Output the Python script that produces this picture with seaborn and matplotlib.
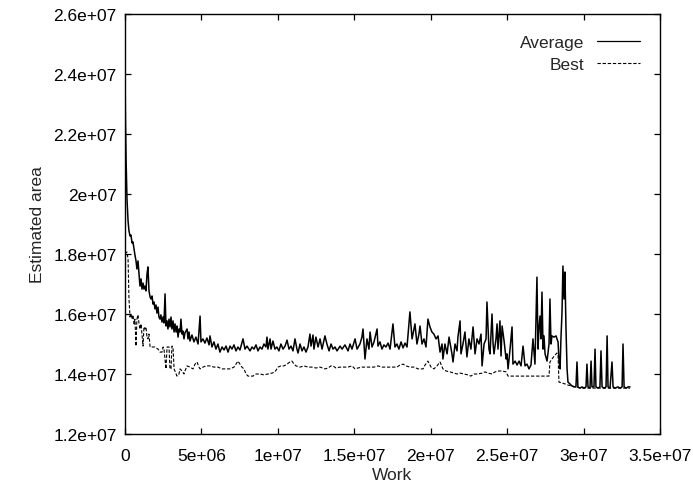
import numpy as np
import pandas as pd
import matplotlib
matplotlib.use("Agg")
import matplotlib.pyplot as plt
from matplotlib.ticker import FuncFormatter, MultipleLocator
from matplotlib.lines import Line2D
import seaborn as sns

# ---- data (work and area in millions) ----
avg_work = [0, 0.03, 0.07, 0.13, 0.20, 0.26, 0.33, 0.39, 0.46, 0.52, 0.59, 0.65, 0.72, 0.78, 0.85,
            0.92, 0.98, 1.05, 1.11, 1.18, 1.24, 1.31, 1.37, 1.44, 1.50, 1.57, 1.64, 1.70, 1.77, 1.83,
            1.90, 1.96, 2.03, 2.09, 2.16, 2.22, 2.29, 2.35, 2.42, 2.49, 2.55, 2.62, 2.68, 2.75, 2.81,
            2.88, 2.94, 3.01, 3.07, 3.14, 3.21, 3.27, 3.34, 3.40, 3.47, 3.53, 3.60, 3.66, 3.73, 3.79,
            3.86, 3.92, 4.06, 4.12, 4.19, 4.25, 4.38, 4.51, 4.64, 4.78, 4.91, 4.97, 5.10, 5.23, 5.36,
            5.50, 5.56, 5.69, 5.82, 5.95, 6.08, 6.21, 6.35, 6.48, 6.61, 6.74, 6.87, 7.00, 7.13, 7.26,
            7.39, 7.52, 7.72, 7.85, 7.98, 8.18, 8.31, 8.44, 8.57, 8.70, 8.83, 8.96, 9.09, 9.22, 9.29,
            9.35, 9.49, 9.55, 9.68, 9.81, 9.94, 10.07, 10.20, 10.34, 10.47, 10.60, 10.73, 10.86, 10.99,
            11.12, 11.25, 11.32, 11.45, 11.58, 11.71, 11.84, 11.97, 12.10, 12.17, 12.30, 12.36, 12.49,
            12.63, 12.76, 12.89, 13.08, 13.21, 13.35, 13.48, 13.61, 13.74, 13.87, 14.07, 14.20, 14.39,
            14.59, 14.72, 14.85, 15.05, 15.18, 15.37, 15.50, 15.57, 15.70, 15.83, 15.96, 16.03, 16.16,
            16.29, 16.49, 16.55, 16.68, 16.81, 16.94, 17.07, 17.21, 17.34, 17.53, 17.66, 17.79, 17.92,
            18.06, 18.19, 18.32, 18.45, 18.64, 18.78, 18.91, 18.97, 19.10, 19.23, 19.30, 19.43, 19.56,
            19.69, 19.82, 19.95, 20.08, 20.21, 20.35, 20.48, 20.61, 20.74, 20.80, 20.93, 21.07, 21.20,
            21.39, 21.46, 21.59, 21.72, 21.78, 21.92, 21.98, 22.11, 22.24, 22.37, 22.50, 22.63, 22.77,
            22.90, 23.03, 23.16, 23.29, 23.36, 23.49, 23.62, 23.68, 23.81, 23.88, 24.01, 24.08, 24.14,
            24.27, 24.34, 24.40, 24.53, 24.60, 24.67, 24.80, 24.93, 24.99, 25.06, 25.19, 25.32, 25.38,
            25.52, 25.65, 25.78, 25.91, 26.04, 26.17, 26.30, 26.43, 26.56, 26.69, 26.82, 26.95, 27.02,
            27.08, 27.15, 27.21, 27.28, 27.35, 27.41, 27.48, 27.61, 27.74, 27.80, 27.87, 27.93, 28.06,
            28.20, 28.26, 28.33, 28.39, 28.46, 28.52, 28.59, 28.65, 28.72, 28.78, 28.85, 28.92, 28.98,
            29.11, 29.24, 29.37, 29.50, 29.57, 29.63, 29.76, 29.90, 30.03, 30.16, 30.22, 30.29, 30.42,
            30.49, 30.55, 30.68, 30.75, 30.81, 30.94, 31.07, 31.14, 31.21, 31.34, 31.47, 31.54, 31.60,
            31.73, 31.86, 31.93, 32.06, 32.25, 32.39, 32.52, 32.58, 32.65, 32.78, 32.91, 33.04]
avg_area = [24.23, 22.5, 21.17, 19.83, 19.1, 18.77, 18.6, 18.63, 18.37, 18.4, 18.17, 17.97, 17.77, 17.5, 17.77,
            17.3, 16.93, 17.17, 16.83, 17.03, 16.83, 16.93, 16.77, 17.33, 17.57, 16.77, 16.57, 16.5, 16.6, 16.33,
            16.4, 16.17, 16.3, 16.03, 16.23, 15.9, 15.83, 15.97, 15.73, 15.9, 15.7, 16.67, 15.6, 15.77, 15.5,
            15.83, 15.57, 15.9, 15.5, 15.77, 15.4, 15.67, 15.4, 15.6, 15.23, 15.5, 15.4, 15.83, 15.33, 15.43,
            15.17, 15.37, 15.5, 15.17, 15.4, 15.1, 15.3, 15.07, 15.23, 15.0, 15.93, 15.07, 15.17, 15.03, 15.2,
            14.97, 15.27, 14.9, 15.07, 14.83, 15.0, 14.73, 14.9, 14.8, 14.93, 14.73, 14.93, 14.83, 14.97, 14.77,
            14.9, 14.8, 15.17, 14.83, 14.93, 14.77, 14.9, 14.83, 14.97, 14.77, 14.9, 14.83, 15.0, 14.9, 15.23,
            14.83, 15.17, 14.83, 15.1, 14.83, 14.9, 14.77, 15.0, 14.83, 14.93, 15.13, 14.83, 14.93, 14.77,
            15.17, 14.83, 14.7, 15.0, 14.77, 14.9, 14.73, 14.9, 15.33, 14.93, 15.3, 14.83, 15.23,
            14.9, 15.17, 14.83, 15.27, 15.0, 14.77, 15.0, 14.83, 14.9, 14.77, 14.93, 14.83, 14.97,
            14.77, 15.0, 14.83, 15.17, 14.83, 15.0, 15.23, 15.5, 14.5, 15.17, 14.83, 15.4, 14.9,
            15.07, 15.5, 14.93, 15.07, 14.83, 14.97, 14.9, 15.03, 14.83, 15.67, 14.9, 15.0, 14.83,
            15.07, 14.87, 15.03, 14.9, 16.07, 15.17, 15.5, 15.67, 15.0, 15.33, 15.6, 15.0, 15.17,
            14.9, 15.83, 15.57, 15.4, 15.33, 15.17, 15.27, 14.73, 15.0, 14.5, 15.0, 14.67, 15.23,
            14.67, 14.4, 15.0, 14.77, 15.23, 15.77, 14.67, 15.0, 15.4, 14.57, 15.17, 14.83, 15.57,
            14.67, 15.17, 15.0, 15.33, 14.27, 15.0, 15.17, 16.4, 14.83, 14.67, 16.0, 15.0, 14.67,
            15.17, 15.67, 14.83, 15.77, 14.6, 15.6, 15.1, 14.5, 14.67, 14.17, 14.83, 15.57, 14.33,
            14.43, 14.3, 14.43, 14.27, 14.93, 14.27, 14.33, 14.17, 14.3, 15.17, 14.33, 17.23, 14.83,
            15.5, 15.93, 15.17, 16.73, 14.83, 15.27, 14.67, 14.43, 15.0, 16.5, 15.0, 15.27, 15.23,
            15.27, 15.17, 15.07, 14.5, 14.17, 15.17, 16.07, 17.6, 16.5, 17.4, 15.5, 14.17, 13.73,
            13.67, 13.6, 13.57, 13.57, 14.4, 13.57, 13.53, 13.57, 13.53, 13.57, 14.33, 13.57, 13.53,
            14.43, 13.57, 13.57, 14.83, 13.57, 13.53, 13.57, 14.77, 13.57, 13.53, 13.57, 15.27, 13.57,
            13.53, 14.4, 13.57, 13.53, 13.57, 13.53, 13.57, 15.0, 13.57, 13.53, 13.57, 13.57]

best_work = [0, 0.13, 0.20, 0.26, 0.33, 0.39, 0.46, 0.52, 0.59, 0.65, 0.72, 0.78, 0.85, 0.92, 0.98,
             1.05, 1.11, 1.18, 1.24, 1.31, 1.37, 1.44, 1.50, 1.57, 1.64, 1.77, 1.96, 2.16, 2.29, 2.42,
             2.49, 2.55, 2.68, 2.75, 2.88, 2.94, 3.01, 3.07, 3.14, 3.21, 3.34, 3.40, 3.53, 3.60, 3.73,
             3.86, 3.92, 4.06, 4.25, 4.45, 4.58, 4.71, 4.84, 4.91, 5.10, 5.30, 5.56, 5.82, 6.08, 6.35,
             6.61, 6.87, 7.13, 7.26, 7.39, 7.52, 7.65, 7.78, 7.92, 8.05, 8.18, 8.37, 8.57, 8.83, 9.09,
             9.35, 9.62, 9.81, 10.01, 10.20, 10.40, 10.60, 10.79, 10.92, 11.06, 11.19, 11.45, 11.71,
             11.97, 12.23, 12.49, 12.76, 13.08, 13.28, 13.48, 13.61, 13.80, 14.07, 14.33, 14.59, 14.85,
             15.05, 15.24, 15.50, 15.77, 16.03, 16.29, 16.55, 16.81, 17.07, 17.34, 17.53, 17.79, 17.99,
             18.19, 18.38, 18.64, 18.91, 19.17, 19.50, 19.63, 19.82, 20.02, 20.21, 20.41, 20.61, 20.80,
             21.00, 21.26, 21.52, 21.72, 21.92, 22.18, 22.44, 22.63, 22.83, 23.09, 23.36, 23.55, 23.75,
             24.01, 24.21, 24.40, 24.67, 24.93, 25.06, 25.32, 25.84, 26.49, 27.15, 27.74, 27.80, 27.93,
             28.13, 28.26, 28.33, 28.39, 28.59, 28.78, 28.98, 29.24, 29.50, 29.76, 30.42, 31.07, 31.73,
             32.39, 33.04]
best_area = [18.0, 18.07, 17.83, 16.5, 15.9, 16.0, 15.83, 15.97, 15.67, 15.83, 14.93, 15.83, 15.97, 15.67, 15.5,
             15.67, 15.33, 14.93, 15.57, 15.5, 15.57, 15.23, 15.17, 15.33, 14.9, 14.9, 14.9, 14.83, 14.73, 14.73,
             14.9, 14.83, 14.17, 14.9, 14.9, 14.17, 14.17, 14.93, 14.9, 14.17, 14.0, 13.93, 14.0, 14.17, 14.1,
             14.0, 14.1, 14.27, 14.23, 14.17, 14.33, 14.4, 14.23, 14.17, 14.23, 14.27, 14.27, 14.23, 14.23, 14.17,
             14.17, 14.17, 14.23, 14.33, 14.43, 14.33, 14.23, 14.17, 14.0, 13.93, 13.93, 13.93, 14.0, 14.0, 13.97,
             14.0, 14.03, 14.07, 14.23, 14.27, 14.27, 14.33, 14.4, 14.43, 14.33, 14.27, 14.23, 14.27,
             14.23, 14.23, 14.2, 14.23, 14.17, 14.2, 14.27, 14.27, 14.2, 14.23, 14.23, 14.23, 14.27,
             14.17, 14.2, 14.23, 14.23, 14.23, 14.23, 14.27, 14.23, 14.23, 14.23, 14.23, 14.23, 14.3,
             14.33, 14.27, 14.23, 14.23, 14.17, 14.17, 14.3, 14.43, 14.23, 14.17, 14.27, 14.4, 14.17,
             14.1, 14.07, 14.03, 14.0, 14.03, 14.0, 13.97, 13.93, 14.0, 14.0, 14.03, 14.07, 14.03,
             14.0, 14.07, 14.1, 14.1, 14.07, 13.93, 13.93, 13.93, 13.93, 13.93, 13.93, 14.4, 14.5,
             14.63, 14.7, 14.63, 13.73, 13.7, 13.67, 13.63, 13.6, 13.57, 13.53, 13.53, 13.53, 13.53,
             13.53, 13.53]

series_names = ["Average", "Best"]

df = pd.concat([
    pd.DataFrame({"Work": np.array(avg_work) * 1e6, "Area": np.array(avg_area) * 1e6, "series": series_names[0]}),
    pd.DataFrame({"Work": np.array(best_work) * 1e6, "Area": np.array(best_area) * 1e6, "series": series_names[1]}),
], ignore_index=True)

sns.set_style("ticks")
plt.rcParams["font.family"] = ["Liberation Sans", "DejaVu Sans"]
FS = 12.5

fig = plt.figure(figsize=(6.93, 4.89), dpi=100)
ax = fig.add_axes([125 / 693, 1 - 435 / 489, 535 / 693, 420 / 489])

sns.lineplot(data=df[df.series == "Average"], x="Work", y="Area", ax=ax, color="black",
             linewidth=1.1, estimator=None, sort=False, legend=False)
sns.lineplot(data=df[df.series == "Best"], x="Work", y="Area", ax=ax, color="black",
             linewidth=0.8, estimator=None, sort=False, legend=False)
ax.lines[1].set_dashes([3, 1.6])

ax.set_xlim(0, 3.5e7)
ax.set_ylim(1.2e7, 2.6e7)
ax.xaxis.set_major_locator(MultipleLocator(5e6))
ax.yaxis.set_major_locator(MultipleLocator(2e6))
fmt = FuncFormatter(lambda v, p: "%g" % v)
ax.xaxis.set_major_formatter(fmt)
ax.yaxis.set_major_formatter(fmt)

for s in ax.spines.values():
    s.set_visible(True)
    s.set_linewidth(1.0)
    s.set_color("black")
ax.tick_params(direction="in", top=True, right=True, length=4.5, width=0.9,
               labelsize=FS, colors="black")
ax.tick_params(axis="y", pad=6)
ax.tick_params(axis="x", pad=10)
ax.set_xlabel("Work", fontsize=FS, labelpad=3)
ax.set_ylabel("Estimated area", fontsize=FS, labelpad=6)

# legend (gnuplot style: right-aligned text, sample on the right)
handles = [Line2D([0], [0], color="black", lw=0.9),
           Line2D([0], [0], color="black", lw=0.8, dashes=[3, 1.6])]
leg = ax.legend(handles, series_names, loc="upper right", frameon=False, markerfirst=False,
                fontsize=FS, handlelength=2.5, handletextpad=0.7, labelspacing=0.4,
                borderaxespad=0.0, bbox_to_anchor=(1 - 13 / 535, 1 - 14 / 420))
for t in leg.get_texts():
    t.set_ha("right")

fig.savefig("out.png", dpi=100)
